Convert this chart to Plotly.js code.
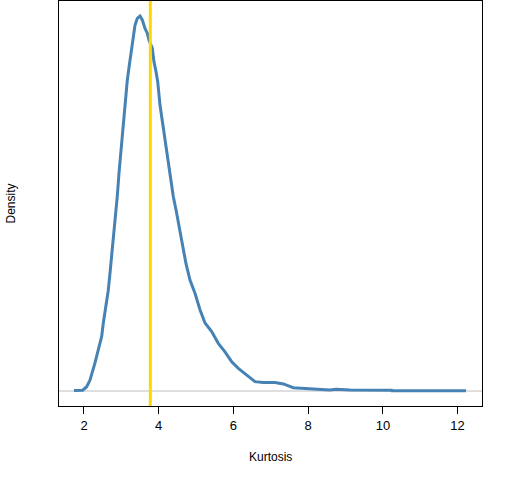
<!DOCTYPE html>
<html>
<head>
<meta charset="utf-8">
<script src="https://cdn.plot.ly/plotly-3.0.1.min.js"></script>
<style>html,body{margin:0;padding:0;background:#fff;}#chart{width:512px;height:480px;}</style>
</head>
<body>
<div id="chart"></div>
<script>
// Density estimate of kurtosis
var kurtosisX = [1.732, 1.965, 2.072, 2.161, 2.294, 2.383, 2.474, 2.517, 2.589, 2.650, 2.696, 2.741, 2.768, 2.830, 2.891, 2.937, 2.990, 3.036, 3.079, 3.124, 3.159, 3.213, 3.277, 3.320, 3.365, 3.427, 3.499, 3.560, 3.633, 3.694, 3.740, 3.828, 3.874, 3.927, 3.973, 4.034, 4.080, 4.141, 4.195, 4.256, 4.321, 4.390, 4.463, 4.524, 4.615, 4.730, 4.837, 4.971, 5.105, 5.239, 5.418, 5.595, 5.774, 5.953, 6.130, 6.355, 6.577, 6.799, 7.112, 7.335, 7.602, 8.138, 8.585, 8.745, 8.986, 9.120, 10.236, 10.244, 12.225];
var densityY = [0.0005, 0.001, 0.0055, 0.014, 0.036, 0.052, 0.070, 0.087, 0.108, 0.129, 0.151, 0.172, 0.193, 0.219, 0.249, 0.279, 0.308, 0.338, 0.360, 0.377, 0.398, 0.417, 0.439, 0.456, 0.468, 0.477, 0.480, 0.475, 0.464, 0.458, 0.449, 0.439, 0.421, 0.409, 0.396, 0.366, 0.351, 0.330, 0.313, 0.291, 0.270, 0.249, 0.232, 0.216, 0.189, 0.163, 0.142, 0.125, 0.104, 0.087, 0.076, 0.061, 0.050, 0.0375, 0.029, 0.0205, 0.012, 0.011, 0.011, 0.009, 0.0042, 0.0026, 0.0013, 0.0022, 0.0022, 0.0013, 0.0009, 0.0003, 0.0003];
var observedKurtosis = 3.775;
var xTickVals = [2, 4, 6, 8, 10, 12];
var xTickText = ["2", "4", "6", "8", "10", "12"];
var xRange = [1.331, 12.653];
var yRange = [-0.0192, 0.4992];

var traces = [
  {x: xRange, y: [0, 0], mode: 'lines', line: {color: '#bebebe', width: 1}, hoverinfo: 'skip', showlegend: false},
  {x: kurtosisX, y: densityY, mode: 'lines', line: {color: '#4682b4', width: 3, shape: 'linear'}, showlegend: false},
  {x: [observedKurtosis, observedKurtosis], y: yRange, mode: 'lines', line: {color: '#ffd700', width: 3}, showlegend: false}
];

var layout = {
  width: 512, height: 480,
  margin: {l: 59, r: 30, t: 1, b: 74, pad: 0},
  paper_bgcolor: '#fff', plot_bgcolor: '#fff',
  font: {family: 'Liberation Sans, Arial, sans-serif', size: 12, color: '#000'},
  showlegend: false,
  xaxis: {
    range: xRange, tickvals: xTickVals, ticktext: xTickText,
    ticks: 'outside', ticklen: 7, tickcolor: '#000', tickwidth: 1,
    showline: true, mirror: true, linecolor: '#000', linewidth: 1,
    showgrid: false, zeroline: false, tickfont: {size: 13, color: '#000'},
    automargin: false
  },
  yaxis: {
    range: yRange, showticklabels: false, ticks: '',
    showline: true, mirror: true, linecolor: '#000', linewidth: 1,
    showgrid: false, zeroline: false, automargin: false
  },
  annotations: [
    {text: 'Kurtosis', xref: 'paper', yref: 'paper', x: 0.5, y: 0, yshift: -51, xanchor: 'center', yanchor: 'middle', showarrow: false, font: {size: 12, color: '#000'}},
    {text: 'Density', xref: 'paper', yref: 'paper', x: 0, xshift: -49, y: 0.5, xanchor: 'center', yanchor: 'middle', textangle: -90, showarrow: false, font: {size: 12, color: '#000'}}
  ]
};

Plotly.newPlot('chart', traces, layout, {displayModeBar: false, staticPlot: true});
</script>
</body>
</html>
